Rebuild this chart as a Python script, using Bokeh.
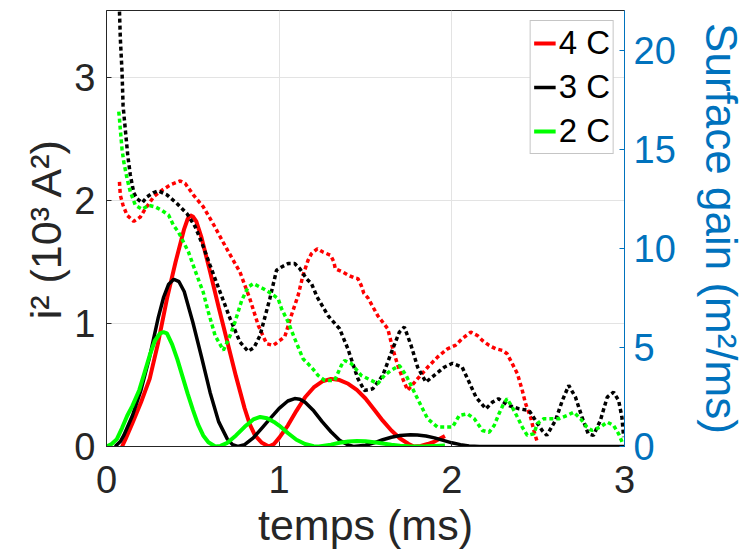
from bokeh.plotting import figure
from bokeh.models import Range1d, LinearAxis, Legend, LegendItem, FixedTicker
from bokeh.embed import file_html
from bokeh.resources import INLINE

# ---------------- data ----------------
# i^2 (10^3 A^2), left axis
t_red = [0.09, 0.11, 0.15, 0.2, 0.25, 0.3, 0.35, 0.4, 0.45, 0.47, 0.485, 0.5, 0.52, 0.55, 0.6, 0.65, 0.7,
         0.75, 0.8, 0.83, 0.86, 0.9, 0.94, 0.97, 1.0, 1.05, 1.1, 1.15, 1.2, 1.25, 1.3, 1.35, 1.4, 1.45,
         1.5, 1.55, 1.6, 1.65, 1.7, 1.75, 1.78, 1.82, 1.86, 1.9, 1.96]
i2_red = [0.0, 0.06, 0.19, 0.36, 0.55, 0.85, 1.2, 1.5, 1.77, 1.85, 1.88, 1.87, 1.83, 1.7, 1.42, 1.13, 0.85,
          0.57, 0.31, 0.18, 0.09, 0.03, 0.0, 0.02, 0.07, 0.17, 0.29, 0.4, 0.48, 0.53, 0.55, 0.54, 0.51, 0.46,
          0.39, 0.3, 0.21, 0.13, 0.065, 0.02, 0.0, 0.005, 0.02, 0.04, 0.085]

t_black = [0.05, 0.08, 0.1, 0.15, 0.2, 0.25, 0.3, 0.33, 0.36, 0.39, 0.42, 0.45, 0.5, 0.55, 0.6, 0.65, 0.7,
           0.73, 0.76, 0.8, 0.85, 0.9, 0.95, 1.0, 1.05, 1.09, 1.12, 1.15, 1.2, 1.25, 1.3, 1.35, 1.4, 1.43,
           1.5, 1.55, 1.6, 1.65, 1.7, 1.76, 1.8, 1.85, 1.9, 1.95, 2.0, 2.05, 2.1, 2.16, 2.5, 3.0]
i2_black = [0.0, 0.04, 0.09, 0.25, 0.46, 0.73, 1.05, 1.21, 1.32, 1.36, 1.34, 1.26, 1.01, 0.73, 0.44, 0.2, 0.06,
            0.015, 0.0, 0.015, 0.07, 0.15, 0.23, 0.31, 0.37, 0.39, 0.385, 0.36, 0.29, 0.2, 0.12, 0.05, 0.012, 0.0,
            0.01, 0.03, 0.055, 0.075, 0.09, 0.095, 0.093, 0.085, 0.07, 0.05, 0.03, 0.015, 0.005, 0.0, 0.0, 0.0]

t_green = [0.0, 0.03, 0.06, 0.09, 0.12, 0.15, 0.19, 0.22, 0.25, 0.28, 0.31, 0.33, 0.35, 0.38, 0.41, 0.44,
           0.47, 0.5, 0.53, 0.56, 0.59, 0.63, 0.66, 0.7, 0.75, 0.8, 0.85, 0.89, 0.93, 0.97, 1.0, 1.05, 1.1,
           1.15, 1.2, 1.23, 1.3, 1.35, 1.4, 1.45, 1.5, 1.55, 1.6, 1.65, 1.7, 1.75, 1.8, 1.85, 1.9, 1.96]
i2_green = [0.0, 0.02, 0.06, 0.15, 0.25, 0.33, 0.46, 0.6, 0.74, 0.86, 0.92, 0.93, 0.92, 0.83, 0.71, 0.57,
            0.43, 0.3, 0.18, 0.09, 0.035, 0.0, 0.005, 0.03, 0.09, 0.16, 0.22, 0.24, 0.23, 0.2, 0.17, 0.11, 0.055,
            0.02, 0.003, 0.0, 0.015, 0.03, 0.04, 0.045, 0.042, 0.035, 0.025, 0.015, 0.007, 0.002, 0.0, 0.002,
            0.005, 0.008]

# Surface gain (m^2/ms), right axis
ts_red = [0.075, 0.08, 0.096, 0.119, 0.158, 0.196, 0.225, 0.273, 0.321, 0.37, 0.427, 0.456, 0.504, 0.56,
          0.62, 0.696, 0.773, 0.83, 0.879, 0.927, 0.966, 1.004, 1.033, 1.07, 1.11, 1.138, 1.167, 1.187,
          1.221, 1.254, 1.298, 1.317, 1.325, 1.37, 1.402, 1.437, 1.456, 1.475, 1.49, 1.514, 1.571, 1.629,
          1.658, 1.687, 1.716, 1.744, 1.802, 1.86, 1.917, 1.975, 2.02, 2.06, 2.11, 2.148, 2.177, 2.216,
          2.254, 2.293, 2.32, 2.35, 2.38, 2.408, 2.427, 2.456, 2.475, 2.495]
sg_red = [13.35, 12.68, 12.17, 11.67, 11.36, 11.58, 12.0, 12.6, 12.93, 13.2, 13.4, 13.27, 12.68, 12.1,
          11.2, 9.98, 8.8, 7.46, 6.11, 5.19, 5.1, 5.35, 5.55, 6.6, 7.63, 8.64, 9.39, 9.73,
          9.98, 9.81, 9.65, 9.31, 8.97, 8.8, 8.64, 8.5, 8.47, 8.13, 7.74, 7.5, 6.6, 5.94,
          4.93, 4.09, 3.42, 2.83, 3.42, 4.0, 4.51, 4.93, 5.1, 5.44, 5.77, 5.6, 5.35, 5.1,
          4.93, 4.85, 4.68, 4.18, 3.67, 2.83, 2.16, 1.48, 0.81, 0.22]

ts_black = [0.072, 0.075, 0.08, 0.09, 0.096, 0.11, 0.123, 0.138, 0.158, 0.177, 0.206, 0.235, 0.27, 0.3,
            0.35, 0.408, 0.466, 0.513, 0.56, 0.6, 0.658, 0.716, 0.773, 0.82, 0.855, 0.889, 0.946, 0.985,
            1.014, 1.052, 1.09, 1.12, 1.158, 1.187, 1.22, 1.283, 1.35, 1.398, 1.456, 1.494, 1.542, 1.6,
            1.658, 1.696, 1.725, 1.764, 1.802, 1.85, 1.898, 1.956, 2.004, 2.06, 2.1, 2.14, 2.197, 2.235,
            2.27, 2.33, 2.39, 2.447, 2.485, 2.523, 2.55, 2.6, 2.64, 2.677, 2.716, 2.754, 2.79, 2.82, 2.86,
            2.9, 2.937, 2.966, 2.985, 2.995]
sg_black = [23.0, 22.0, 20.6, 18.9, 17.2, 15.9, 14.7, 13.7, 12.8, 12.5, 12.3, 12.6, 12.8, 12.9,
            12.7, 12.26, 11.75, 11.1, 10.1, 9.14, 7.79, 6.45, 5.27, 4.8, 5.0, 5.6, 7.46, 8.9,
            9.06, 9.23, 9.23, 8.97, 8.47, 8.22, 7.54, 6.6, 5.94, 4.93, 3.42, 2.83, 2.91, 3.59,
            4.93, 5.77, 6.03, 5.1, 4.0, 3.25, 3.59, 4.0, 4.2, 4.0, 3.25, 2.49, 1.9, 2.24,
            2.41, 2.07, 1.9, 1.82, 1.31, 0.81, 0.56, 1.31, 2.32, 3.08, 2.49, 1.48, 0.64, 0.56, 1.31,
            2.49, 2.74, 2.32, 1.48, 0.47]

ts_green = [0.071, 0.075, 0.081, 0.09, 0.1, 0.119, 0.138, 0.167, 0.206, 0.244, 0.283, 0.32, 0.36, 0.388,
            0.417, 0.475, 0.523, 0.56, 0.59, 0.629, 0.677, 0.716, 0.744, 0.783, 0.821, 0.85, 0.908, 0.956,
            0.994, 1.014, 1.052, 1.09, 1.138, 1.187, 1.225, 1.264, 1.321, 1.36, 1.379, 1.418, 1.475, 1.514,
            1.571, 1.61, 1.648, 1.696, 1.735, 1.783, 1.821, 1.86, 1.917, 1.966, 2.004, 2.043, 2.09, 2.13,
            2.177, 2.216, 2.245, 2.273, 2.3, 2.32, 2.35, 2.38, 2.408, 2.437, 2.475, 2.495, 2.533, 2.58, 2.62,
            2.668, 2.706, 2.745, 2.783, 2.81, 2.86, 2.9, 2.937, 2.966, 2.99]
sg_green = [16.9, 16.55, 15.9, 15.0, 14.36, 13.52, 12.85, 12.17, 11.97, 12.17, 12.09, 11.92, 11.67, 11.16,
            10.82, 9.81, 8.64, 7.79, 6.78, 5.6, 4.85, 5.6, 6.28, 7.37, 8.05, 8.22, 7.96, 7.71,
            7.46, 6.95, 6.28, 5.44, 4.43, 4.0, 3.59, 3.33, 3.33, 4.09, 4.34, 4.18, 3.59, 3.42,
            3.17, 3.59, 3.84, 4.09, 3.59, 2.74, 2.07, 1.4, 0.98, 0.98, 0.98, 1.57, 1.65, 1.4,
            0.81, 0.72, 1.06, 1.65, 2.16, 2.41, 1.98, 1.48, 0.98, 0.56, 0.64, 1.15, 1.4, 1.4, 1.4,
            1.57, 1.73, 1.4, 0.98, 0.81, 0.98, 1.23, 1.06, 0.64, 0.14]

x_ticks = [0, 1, 2, 3]
left_ticks = [0, 1, 2, 3]
right_ticks = [0, 5, 10, 15, 20]
labels = ["4 C", "3 C", "2 C"]

# ---------------- styles ----------------
FONT = "Liberation Sans"
DARK = "#262626"
BLUE = "#0072BD"
RED = "#FF0000"
GREEN = "#00FF00"
BLACK = "#000000"

p = figure(width=748, height=560, output_backend="svg", toolbar_location=None,
           x_range=Range1d(0, 3), y_range=Range1d(0, 3.545),
           min_border_left=106, min_border_right=122, min_border_top=10, min_border_bottom=114,
           background_fill_color="white", border_fill_color="white")
p.extra_y_ranges = {"gain": Range1d(0, 22)}
p.outline_line_color = DARK
p.outline_line_width = 1

# grid
p.xgrid.ticker = FixedTicker(ticks=x_ticks)
p.ygrid.ticker = FixedTicker(ticks=left_ticks)
for g in (p.xgrid, p.ygrid):
    g.grid_line_color = "#E3E3E3"
    g.grid_line_width = 1

def style_axis(ax, color, label, lab_size="43px"):
    ax.axis_label = label
    ax.axis_label_text_font = FONT
    ax.axis_label_text_font_size = lab_size
    ax.axis_label_text_font_style = "normal"
    ax.axis_label_text_color = color
    ax.major_label_text_font = FONT
    ax.major_label_text_font_size = "38px"
    ax.major_label_text_color = color
    ax.axis_line_color = color
    ax.major_tick_line_color = color
    ax.major_tick_in = 5
    ax.major_tick_out = 0
    ax.minor_tick_line_color = None

xa = p.xaxis[0]
xa.ticker = FixedTicker(ticks=x_ticks)
style_axis(xa, DARK, "temps (ms)")
xa.major_label_standoff = 19
xa.axis_label_standoff = 5

ya = p.yaxis[0]
ya.ticker = FixedTicker(ticks=left_ticks)
style_axis(ya, DARK, "i² (10³ A²)")
ya.major_label_standoff = 11
ya.axis_label_standoff = 1

ra = LinearAxis(y_range_name="gain", ticker=FixedTicker(ticks=right_ticks))
style_axis(ra, BLUE, "Surface gain (m²/ms)", "44px")
ra.major_label_standoff = 9
ra.axis_label_standoff = 18
p.add_layout(ra, "right")

# solid curves (left axis)
r_red = p.line(t_red, i2_red, line_color=RED, line_width=4)
r_black = p.line(t_black, i2_black, line_color=BLACK, line_width=3.5)
r_green = p.line(t_green, i2_green, line_color=GREEN, line_width=4)

# dotted curves (right axis)
for xs, ys, c in ((ts_red, sg_red, RED), (ts_black, sg_black, BLACK), (ts_green, sg_green, GREEN)):
    p.line(xs, ys, y_range_name="gain", line_color=c, line_width=3.5, line_dash="4 3", line_cap="butt")

legend = Legend(items=[LegendItem(label=labels[0], renderers=[r_red]),
                       LegendItem(label=labels[1], renderers=[r_black]),
                       LegendItem(label=labels[2], renderers=[r_green])],
                location="top_right")
legend.label_text_font = FONT
legend.label_text_font_size = "33px"
legend.label_text_color = BLACK
legend.glyph_width = 22
legend.glyph_height = 38
legend.label_standoff = 3
legend.spacing = 6
legend.padding = 3
legend.margin = 10
legend.border_line_color = "#8C8C8C"
legend.border_line_width = 1
legend.background_fill_color = "white"
legend.background_fill_alpha = 1
p.add_layout(legend)

open("out.html", "w").write(file_html(p, INLINE))
